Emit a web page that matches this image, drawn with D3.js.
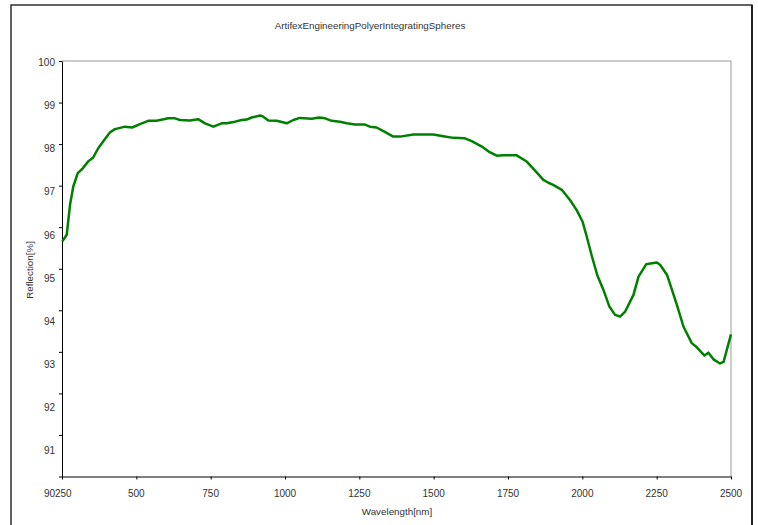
<!DOCTYPE html>
<html lang="en">
<head>
<meta charset="utf-8">
<title>Artifex Engineering Polyer Integrating Spheres</title>
<script src="https://cdn.jsdelivr.net/npm/d3@7"></script>
<style>
  body { margin: 0; background: #fff; overflow: hidden; }
  svg { display: block; }
  text { font-family: "Liberation Sans", Arial, sans-serif; fill: #333; }
</style>
</head>
<body>
<script>
// data
var wavelength = [251, 266, 277, 288, 303, 318, 339, 355, 372, 392, 411, 428, 462, 486, 512, 540, 568, 608, 630, 647,
  680, 708, 731, 759, 787, 804, 832, 854, 871, 888, 916, 927, 944, 972, 1006, 1028, 1050, 1090, 1115, 1135,
  1157, 1185, 1208, 1235, 1269, 1286, 1308, 1331, 1364, 1387, 1432, 1499, 1532, 1566, 1605, 1628, 1662, 1685, 1712, 1734,
  1779, 1813, 1841, 1869, 1886, 1902, 1931, 1959, 1981, 2001, 2015, 2031, 2050, 2071, 2091, 2110, 2127, 2144, 2172, 2189,
  2215, 2234, 2251, 2262, 2285, 2307, 2318, 2340, 2368, 2385, 2411, 2424, 2441, 2463, 2475, 2500];
var reflection = [95.66, 95.82, 96.54, 96.98, 97.30, 97.40, 97.59, 97.68, 97.90, 98.10, 98.28, 98.36, 98.42, 98.40, 98.48, 98.56, 98.56, 98.62, 98.62, 98.58,
  98.57, 98.60, 98.50, 98.42, 98.50, 98.50, 98.54, 98.58, 98.59, 98.64, 98.69, 98.66, 98.57, 98.56, 98.50, 98.58, 98.63, 98.61, 98.64, 98.62,
  98.56, 98.54, 98.50, 98.47, 98.47, 98.42, 98.40, 98.31, 98.18, 98.18, 98.23, 98.23, 98.19, 98.15, 98.14, 98.07, 97.94, 97.82, 97.72, 97.73,
  97.73, 97.58, 97.36, 97.14, 97.07, 97.02, 96.90, 96.65, 96.41, 96.13, 95.77, 95.33, 94.85, 94.49, 94.09, 93.89, 93.85, 93.97, 94.37, 94.81,
  95.11, 95.13, 95.15, 95.09, 94.85, 94.37, 94.13, 93.61, 93.21, 93.11, 92.91, 92.98, 92.82, 92.72, 92.76, 93.42];
var xTicks = [250, 500, 750, 1000, 1250, 1500, 1750, 2000, 2250, 2500];
var yTicks = [90, 91, 92, 93, 94, 95, 96, 97, 98, 99, 100];

var width = 758, height = 525;
var plotL = 62, plotR = 731, plotT = 61, plotB = 476.5;

var svg = d3.select("body").append("svg")
  .attr("width", width).attr("height", height);

// outer frame
svg.append("rect")
  .attr("x", 11).attr("y", 5).attr("width", 741).attr("height", 530)
  .attr("fill", "#fff").attr("stroke", "#111").attr("stroke-width", 1.3);
svg.append("line")
  .attr("x1", 752).attr("x2", 752).attr("y1", 5).attr("y2", 525)
  .attr("stroke", "#222").attr("stroke-width", 2);

var x = d3.scaleLinear().domain([250, 2500]).range([plotL, plotR]);
var y = d3.scaleLinear().domain([90, 100]).range([plotB, plotT]);
// tick labels sit on a slightly wider spacing than the ticks themselves
var yLab = d3.scaleLinear().domain([100, 90]).range([62.7, 493.5]);

/** plot border: grey top and right **/
svg.append("path")
  .attr("d", "M" + plotL + "," + plotT + "H" + plotR + "V" + plotB)
  .attr("fill", "none").attr("stroke", "#999").attr("stroke-width", 1);

svg.append("g")
  .attr("transform", "translate(0," + plotB + ")")
  .call(d3.axisBottom(x).tickValues(xTicks).tickSize(3).tickSizeOuter(0).tickFormat(""))
  .call(g => g.selectAll("path,line").attr("stroke", "#000"));

svg.append("g")
  .attr("transform", "translate(" + plotL + ",0)")
  .call(d3.axisLeft(y).tickValues(yTicks).tickSize(3).tickSizeOuter(0).tickFormat(""))
  .call(g => g.selectAll("path,line").attr("stroke", "#000"));

svg.selectAll("text.xl")
  .data(xTicks).enter().append("text")
  .attr("class", "xl")
  .attr("x", d => x(d)).attr("y", 493).attr("dy", "0.35em")
  .attr("dx", (d, i) => i === 0 ? 1.3 : 0)   // first label butts up against the "90"
  .attr("text-anchor", "middle").attr("font-size", "10px")
  .text(d => d);

svg.selectAll("text.yl")
  .data(yTicks).enter().append("text")
  .attr("class", "yl")
  .attr("x", 55).attr("y", d => yLab(d)).attr("dy", "0.35em")
  .attr("text-anchor", "end").attr("font-size", "10px")
  .text(d => d);

/** the curve **/
var pts = wavelength.map((w, i) => [w, reflection[i]]);
svg.append("path")
  .datum(pts)
  .attr("fill", "none")
  .attr("stroke", "#008000")
  .attr("stroke-width", 2.5)
  .attr("stroke-linejoin", "round")
  .attr("d", d3.line().x(d => x(d[0])).y(d => y(d[1])));

// titles
svg.append("text")
  .attr("x", 370).attr("y", 26).attr("dy", "0.35em")
  .attr("text-anchor", "middle").attr("font-size", "9.8px")
  .text("ArtifexEngineeringPolyerIntegratingSpheres");

svg.append("text")
  .attr("x", 397).attr("y", 512).attr("dy", "0.35em")
  .attr("text-anchor", "middle").attr("font-size", "9.8px")
  .text("Wavelength[nm]");

svg.append("text")
  .attr("transform", "translate(30,270) rotate(-90)")
  .attr("dy", "0.35em")
  .attr("text-anchor", "middle").attr("font-size", "9.8px")
  .text("Reflection[%]");
</script>
</body>
</html>
